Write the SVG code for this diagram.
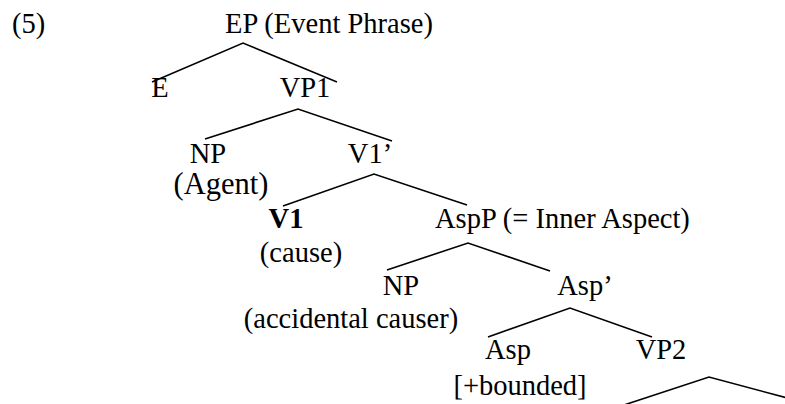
<svg xmlns="http://www.w3.org/2000/svg" width="785" height="404" viewBox="0 0 785 404">
<style>
text{font-family:"Liberation Serif","Times New Roman",serif;font-size:28.5px;fill:#000}
.m{text-anchor:middle}
.b{font-weight:bold}
.big{font-size:30.5px}
.e{fill:none;stroke:#000;stroke-width:1.6;stroke-linejoin:miter}
</style>
<rect width="785" height="404" fill="#fff"/>
<g id="label5"><text x="12" y="33">(5)</text></g>
<g id="EP"><text x="225" y="33">EP (Event Phrase)</text></g>
<g id="E"><text class="m" x="160" y="97">E</text></g>
<g id="VP1"><text class="m" x="305" y="97">VP1</text></g>
<g id="NP1"><text class="m" x="208" y="163">NP</text><text class="m big" x="221" y="194">(Agent)</text></g>
<g id="V1bar"><text class="m" x="370" y="163">V1’</text></g>
<g id="V1"><text class="m b" x="286" y="228">V1</text><text class="m" x="301" y="262">(cause)</text></g>
<g id="AspP"><text x="435" y="228">AspP (= Inner Aspect)</text></g>
<g id="NP2"><text class="m" x="401" y="295">NP</text><text class="m" x="351" y="328">(accidental causer)</text></g>
<g id="Aspbar"><text class="m" x="585" y="295">Asp’</text></g>
<g id="Asp"><text class="m" x="508" y="359">Asp</text><text class="m" x="520" y="395">[+bounded]</text></g>
<g id="VP2"><text class="m" x="661" y="359">VP2</text></g>
<g id="connectors">
<polyline class="e" points="152,82 243,43 337,82"/>
<polyline class="e" points="205,139 298,109 392,141"/>
<polyline class="e" points="283,206 374,174 467,205"/>
<polyline class="e" points="387,270 468,243 550,271"/>
<polyline class="e" points="488,337 570,308 652,337"/>
<polyline class="e" points="624,405 709,377 791,399"/>
</g>
</svg>
